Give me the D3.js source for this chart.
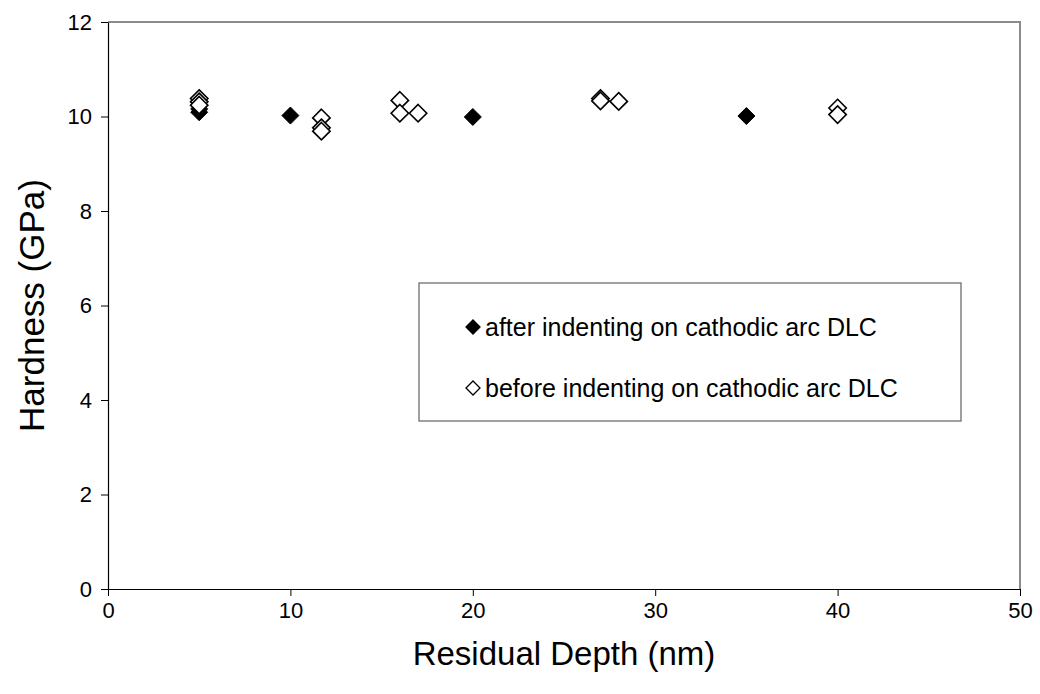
<!DOCTYPE html>
<html>
<head>
<meta charset="utf-8">
<script src="https://cdn.jsdelivr.net/npm/d3@7"></script>
<style>
  html, body { margin: 0; padding: 0; background: #fff; }
  svg { display: block; font-family: "Liberation Sans", Arial, sans-serif; }
</style>
</head>
<body>
<svg id="chart" width="1040" height="694"></svg>
<script>
// Residual depth (nm) and hardness (GPa) for each indent
const afterDepth    = [5, 5, 10, 20, 35];
const afterHardness = [10.16, 10.09, 10.02, 9.99, 10.01];

const beforeDepth    = [5, 5, 5, 11.7, 11.7, 11.7, 16, 16, 17, 27, 27, 28, 40, 40];
const beforeHardness = [10.38, 10.31, 10.24, 9.97, 9.76, 9.69, 10.34, 10.07, 10.07, 10.38, 10.33, 10.32, 10.18, 10.04];

const seriesNames = ["after indenting on cathodic arc DLC", "before indenting on cathodic arc DLC"];
const xTicks = [0, 10, 20, 30, 40, 50];
const yTicks = [0, 2, 4, 6, 8, 10, 12];

const svg = d3.select("#chart");
const plot = { left: 108, right: 1020, top: 22, bottom: 589 };

const x = d3.scaleLinear().domain([0, 50]).range([plot.left, plot.right]);
const y = d3.scaleLinear().domain([0, 12]).range([plot.bottom, plot.top]);

// plot-area frame (top and right edges in grey)
svg.append("path")
  .attr("d", `M${plot.left},${plot.top}H${plot.right}V${plot.bottom}`)
  .attr("fill", "none").attr("stroke", "#8c8c8c").attr("stroke-width", 2);

// axes
const xAxis = svg.append("g")
  .attr("transform", `translate(0,${plot.bottom})`)
  .call(d3.axisBottom(x).tickValues(xTicks).tickSizeOuter(0).tickSizeInner(7).tickPadding(6));
const yAxis = svg.append("g")
  .attr("transform", `translate(${plot.left},0)`)
  .call(d3.axisLeft(y).tickValues(yTicks).tickSizeOuter(0).tickSizeInner(7).tickPadding(9));

[xAxis, yAxis].forEach(g => {
  g.select(".domain").attr("stroke", "#000").attr("stroke-width", 1.2);
  g.selectAll(".tick line").attr("stroke", "#000").attr("stroke-width", 1);
  g.selectAll(".tick text").attr("font-size", 22).attr("fill", "#000")
    .attr("font-family", "'Liberation Sans', Arial, sans-serif");
});

// axis titles
svg.append("text")
  .attr("x", (plot.left + plot.right) / 2).attr("y", 665)
  .attr("text-anchor", "middle").attr("font-size", 33).attr("fill", "#000")
  .text("Residual Depth (nm)");
svg.append("text")
  .attr("transform", `translate(44,${(plot.top + plot.bottom) / 2}) rotate(-90)`)
  .attr("text-anchor", "middle").attr("font-size", 35).attr("fill", "#000")
  .text("Hardness (GPa)");

// diamond marker path centred on the origin
const diamond = r => `M0,${-r}L${r},0L0,${r}L${-r},0Z`;

// filled diamonds: after indenting
svg.append("g").selectAll("path")
  .data(afterDepth.map((d, i) => [d, afterHardness[i]]))
  .join("path")
  .attr("transform", d => `translate(${x(d[0])},${y(d[1])})`)
  .attr("d", diamond(8.5))
  .attr("fill", "#000").attr("stroke", "#000").attr("stroke-width", 1);

// open diamonds: before indenting
svg.append("g").selectAll("path")
  .data(beforeDepth.map((d, i) => [d, beforeHardness[i]]))
  .join("path")
  .attr("transform", d => `translate(${x(d[0])},${y(d[1])})`)
  .attr("d", diamond(8.7))
  .attr("fill", "#fff").attr("stroke", "#000").attr("stroke-width", 1.6);

// legend
const legend = svg.append("g");
legend.append("rect")
  .attr("x", 419).attr("y", 283).attr("width", 542).attr("height", 138)
  .attr("fill", "#fff").attr("stroke", "#6e6e6e").attr("stroke-width", 1.3);

const legendRows = [
  { name: seriesNames[0], fill: "#000", cy: 327 },
  { name: seriesNames[1], fill: "#fff", cy: 388 }
];
legendRows.forEach(r => {
  legend.append("path")
    .attr("transform", `translate(473,${r.cy})`)
    .attr("d", diamond(7))
    .attr("fill", r.fill).attr("stroke", "#000").attr("stroke-width", 1.3);
  legend.append("text")
    .attr("x", 485).attr("y", r.cy + 9)
    .attr("font-size", 25).attr("fill", "#000")
    .text(r.name);
});
</script>
</body>
</html>
